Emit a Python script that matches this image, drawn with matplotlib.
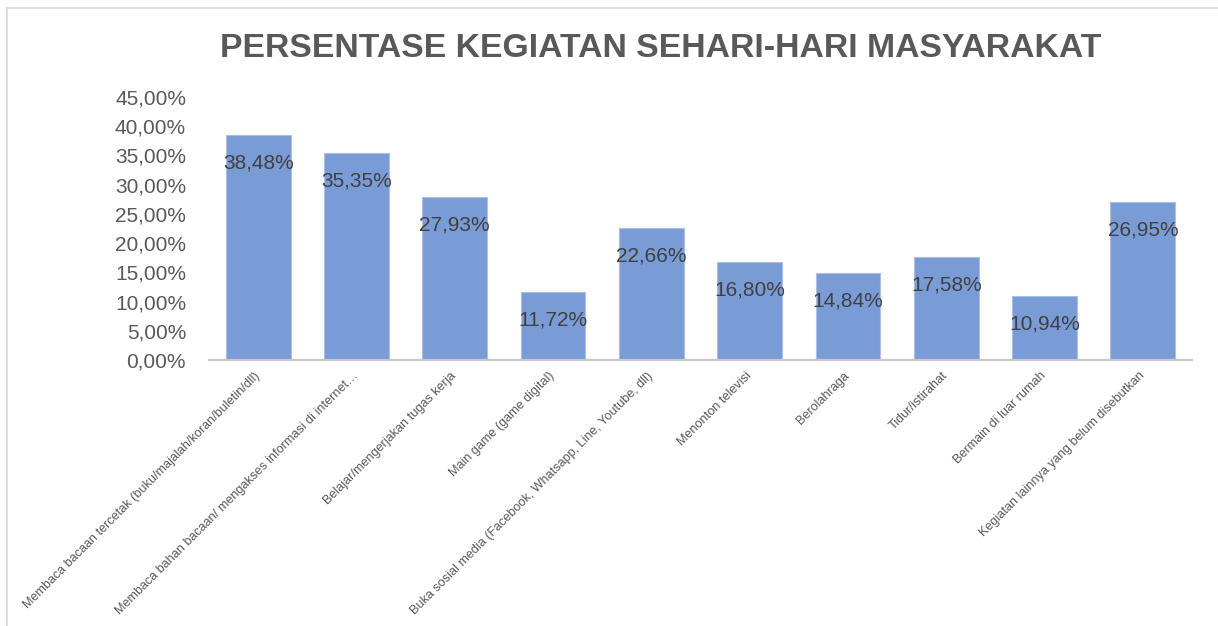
import numpy as np
import matplotlib
matplotlib.use('Agg')
import matplotlib.pyplot as plt
from matplotlib.lines import Line2D
from matplotlib.ticker import FuncFormatter

categories = [
    'Membaca bacaan tercetak (buku/majalah/koran/buletin/dll)',
    'Membaca bahan bacaan/ mengakses informasi di internet\u2026',
    'Belajar/mengerjakan tugas kerja',
    'Main game (game digital)',
    'Buka sosial media (Facebook, Whatsapp, Line, Youtube, dll)',
    'Menonton televisi',
    'Berolahraga',
    'Tidur/istirahat',
    'Bermain di luar rumah',
    'Kegiatan lainnya yang belum disebutkan',
]
values = [38.48, 35.35, 27.93, 11.72, 22.66, 16.80, 14.84, 17.58, 10.94, 26.95]
yticks = [0, 5, 10, 15, 20, 25, 30, 35, 40, 45]
title = 'PERSENTASE KEGIATAN SEHARI-HARI MASYARAKAT'

plt.rcParams['font.family'] = ['Liberation Sans', 'DejaVu Sans']

def pct(v, pos=None):
    return f'{v:.2f}'.replace('.', ',') + '%'

W, H = 1218, 626
fig = plt.figure(figsize=(W / 100, H / 100), dpi=100)
ax = fig.add_axes([209 / W, (H - 360) / H, (1192 - 209) / W, (360 - 97) / H])

x = np.arange(len(values))
ax.bar(x, values, width=0.66, color='#7A9CD6', edgecolor='#A9BFE6', linewidth=0.8, zorder=2)

for xi, v in zip(x, values):
    ax.annotate(pct(v), (xi, v), xytext=(0, -28), textcoords='offset pixels',
                ha='center', va='center', fontsize=15, color='#404040')

ax.set_xlim(-0.5, len(values) - 0.5)
ax.set_ylim(0, 45)
ax.set_yticks(yticks)
ax.yaxis.set_major_formatter(FuncFormatter(pct))
ax.tick_params(axis='y', length=0, pad=16.5, labelsize=15, labelcolor='#595959')
ax.set_xticks(x)
ax.set_xticklabels(categories, rotation=45, ha='right', va='center',
                   rotation_mode='anchor', fontsize=9.1, color='#595959')
ax.tick_params(axis='x', length=0, pad=10)

for s in ['top', 'right', 'left']:
    ax.spines[s].set_visible(False)
ax.spines['bottom'].set_color('#C8C8C8')
ax.spines['bottom'].set_linewidth(1.6)

fig.text(660.5 / W, (H - 57) / H, title, ha='center', va='baseline',
         fontsize=24.3, fontweight='bold', color='#595959')

# chart frame (top and left edges)
fig.add_artist(Line2D([7 / W, 1], [(H - 8) / H, (H - 8) / H], color='#D9D9D9', lw=1.2))
fig.add_artist(Line2D([7 / W, 7 / W], [0, (H - 8) / H], color='#D9D9D9', lw=1.2))

fig.savefig('out.png', dpi=100)
